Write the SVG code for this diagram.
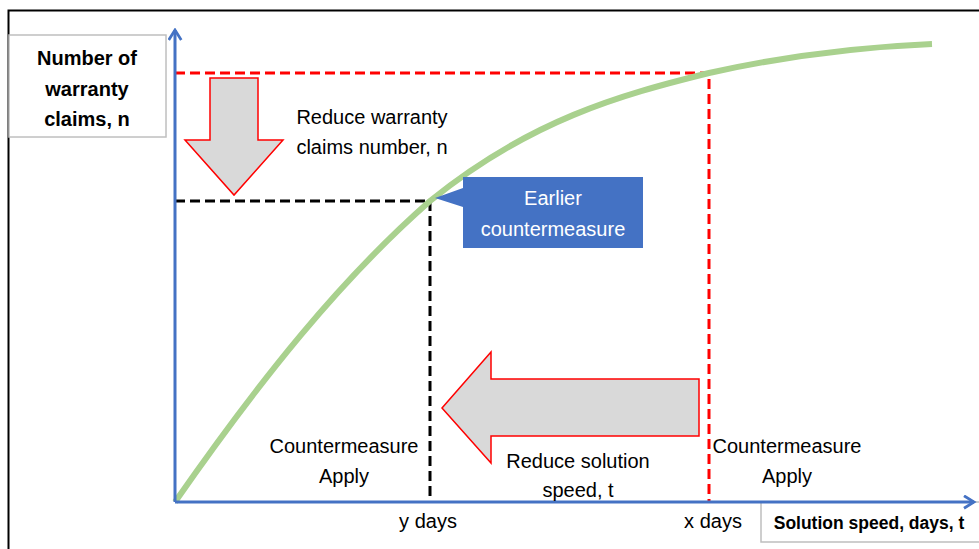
<svg xmlns="http://www.w3.org/2000/svg" width="979" height="549" viewBox="0 0 979 549">
<defs>
<style>
.t{font-family:"Liberation Sans",Arial,sans-serif;font-size:20px;fill:#000;text-anchor:middle}
.b{font-weight:bold}
.w{fill:#fff}
.box{fill:#fff;stroke:#BFBFBF;stroke-width:1.5}
.axis{stroke:#4472C4;stroke-width:3;fill:none}
.red{stroke:#FF0000;stroke-width:3;stroke-dasharray:10 5;fill:none}
.blk{stroke:#000;stroke-width:3;stroke-dasharray:10 5;fill:none}
.bigarrow{fill:#D9D9D9;stroke:#FF0000;stroke-width:1.5}
</style>
<marker id="chev" viewBox="0 0 12 12" refX="10" refY="6" markerWidth="5" markerHeight="5" markerUnits="strokeWidth" orient="auto">
<path d="M2,1 L10,6 L2,11" fill="none" stroke="#4472C4" stroke-width="2.2"/>
</marker>
</defs>
<rect width="979" height="549" fill="#fff"/>
<path d="M8.5,549 V10.5 H979" fill="none" stroke="#000" stroke-width="2"/>

<g id="ylabel">
<rect class="box" x="9" y="35" width="157" height="102"/>
<text class="t b" x="87" y="65">Number of</text>
<text class="t b" x="87" y="96">warranty</text>
<text class="t b" x="87" y="126">claims, n</text>
</g>

<g id="xlabel">
<path class="box" d="M979,502 H761 V542 H979"/>
<text class="t b" x="869" y="529" style="font-size:17.5px">Solution speed, days, t</text>
</g>

<g id="connectors">
<path class="red" d="M175,73 H709 V502"/>
<path class="blk" d="M175,201 H430 V502"/>
<path id="curve" d="M175,502 C260,380 340,280 430,201 C530,120 620,95 709,73 C790,55 860,47 932,44" fill="none" stroke="#A9D18E" stroke-width="6"/>
<path class="axis" d="M175,502 V30" marker-end="url(#chev)"/>
<path class="axis" d="M175,502 H974" marker-end="url(#chev)"/>
</g>

<g id="down-arrow">
<path class="bigarrow" d="M210,78 H258 V140 H283 L234,195 L185,140 H210 Z"/>
</g>
<g id="reduce-n">
<text class="t" x="372" y="124">Reduce warranty</text>
<text class="t" x="372" y="154">claims number, n</text>
</g>

<g id="callout">
<path d="M463,177 H643 V248 H463 V207 L435,198 L463,188 Z" fill="#4472C4"/>
<text class="t w" x="553" y="205">Earlier</text>
<text class="t w" x="553" y="236">countermeasure</text>
</g>

<g id="left-arrow">
<path class="bigarrow" d="M699,379 V436 H491 V463 L442,408 L491,352 V379 Z"/>
</g>
<g id="reduce-t">
<text class="t" x="578" y="468">Reduce solution</text>
<text class="t" x="578" y="497">speed, t</text>
</g>

<g id="apply-y">
<text class="t" x="344" y="453">Countermeasure</text>
<text class="t" x="344" y="483">Apply</text>
</g>
<g id="apply-x">
<text class="t" x="787" y="453">Countermeasure</text>
<text class="t" x="787" y="483">Apply</text>
</g>

<g id="ticks">
<text class="t" x="428" y="528">y days</text>
<text class="t" x="713" y="528">x days</text>
</g>
</svg>
